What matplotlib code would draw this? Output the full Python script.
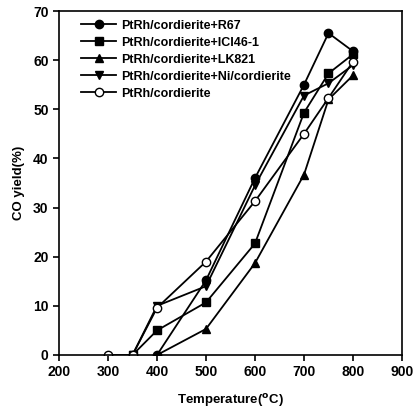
import matplotlib
matplotlib.use("Agg")
import matplotlib.pyplot as plt

plt.rcParams['font.family'] = ['Liberation Sans', 'DejaVu Sans']
plt.rcParams['font.weight'] = 'bold'

labels = ["PtRh/cordierite+R67", "PtRh/cordierite+ICI46-1", "PtRh/cordierite+LK821",
          "PtRh/cordierite+Ni/cordierite", "PtRh/cordierite"]

x_r67 = [400, 500, 600, 700, 750, 800]
y_r67 = [0, 15.2, 36.0, 55.0, 65.5, 61.8]

x_ici = [350, 400, 500, 600, 700, 750, 800]
y_ici = [0, 5.0, 10.7, 22.7, 49.3, 57.3, 61.2]

x_lk = [400, 500, 600, 700, 750, 800]
y_lk = [0, 5.3, 18.7, 36.7, 52.0, 56.9]

x_ni = [350, 400, 500, 600, 700, 750, 800]
y_ni = [0, 10.0, 14.0, 34.5, 52.8, 55.3, 59.0]

x_pt = [300, 350, 400, 500, 600, 700, 750, 800]
y_pt = [0, 0, 9.6, 19.0, 31.3, 45.0, 52.3, 59.7]

fig = plt.figure(figsize=(4.14, 4.08), dpi=100)
ax = fig.add_axes([59/414, 1-355/408, (402-59)/414, (355-11)/408])

kw = dict(color='black', lw=1.3, ms=6)
ax.plot(x_r67, y_r67, marker='o', label=labels[0], **kw)
ax.plot(x_ici, y_ici, marker='s', label=labels[1], **kw)
ax.plot(x_lk, y_lk, marker='^', label=labels[2], **kw)
ax.plot(x_ni, y_ni, marker='v', label=labels[3], **kw)
ax.plot(x_pt, y_pt, marker='o', mfc='white', label=labels[4], **kw)

ax.set_xlim(200, 900)
ax.set_ylim(0, 70)
ax.set_xticks(range(200, 901, 100))
ax.set_yticks(range(0, 71, 10))
ax.tick_params(direction='out', length=4, width=1.2, labelsize=10)
for lab in ax.get_xticklabels() + ax.get_yticklabels():
    lab.set_fontweight('bold')
for s in ax.spines.values():
    s.set_linewidth(1.2)

ax.set_xlabel("Temperature($^{\\mathrm{o}}$C)", fontsize=9.5, fontweight='bold', labelpad=9)
ax.set_ylabel("CO yield(%)", fontsize=9.5, fontweight='bold', labelpad=6)

leg = ax.legend(loc='upper left', frameon=False, handlelength=2.8,
                prop=dict(size=9, weight='bold'),
                borderaxespad=0.3, labelspacing=0.4, handletextpad=0.4,
                bbox_to_anchor=(0.04, 1.0))

fig.savefig("out.png", dpi=100)
